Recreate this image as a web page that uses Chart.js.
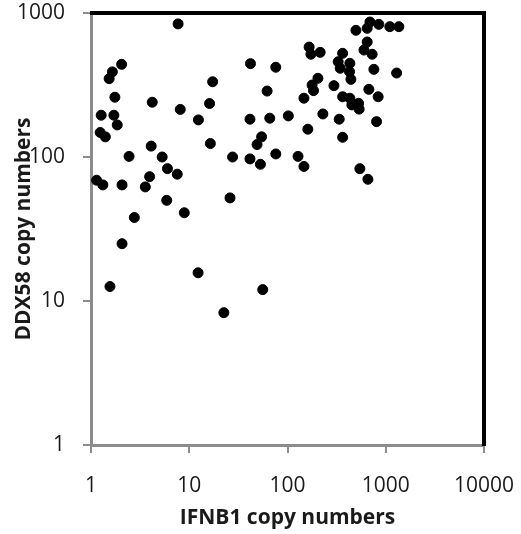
<!DOCTYPE html>
<html>
<head>
<meta charset="utf-8">
<script src="https://cdn.jsdelivr.net/npm/chart.js@4"></script>
<style>
  html, body { margin: 0; padding: 0; background: #fff; }
</style>
</head>
<body>
<canvas id="grafico" width="521" height="534"></canvas>
<script>
// IFNB1 (x) y DDX58 (y)
const ifnb1 = [
  7.7, 2.05, 1.65, 1.53, 1.75, 4.2, 8.1, 17.3, 16.1, 12.4,
  1.27, 1.71, 1.85, 1.24, 1.40, 4.1, 2.44, 5.3, 6.0, 16.4,
  27.6, 41.5, 53, 42, 76, 62, 41.5, 66, 102, 54.5,
  49, 76, 128, 497, 647, 690, 850, 1100, 1360, 647,
  600, 727, 166, 173, 215, 364, 328, 431, 344, 428,
  442, 757, 1290, 204, 178, 184, 297, 147, 364, 431,
  452, 529, 536, 673, 837, 229, 336, 806, 161, 364,
  147, 545, 658, 7.55, 3.95, 3.57, 1.14, 1.32, 2.07, 5.9,
  8.9, 2.76, 2.07, 12.3, 1.56, 56, 22.5, 26
];
const ddx58 = [
  840, 440, 390, 350, 260, 240, 214, 333, 235, 181,
  195, 195, 167, 148, 138, 119, 101, 100, 83, 124,
  100, 97, 89, 445, 420, 287, 183, 186, 193, 138,
  122, 105, 101, 758, 783, 866, 834, 804, 804, 629,
  553, 517, 580, 517, 533, 525, 459, 447, 413, 391,
  346, 406, 383, 352, 316, 289, 313, 256, 262, 256,
  230, 236, 215, 295, 262, 199, 183, 176, 156, 137,
  86, 83, 70, 76, 73, 62, 69, 64, 64, 50,
  41, 38, 25, 15.7, 12.6, 12, 8.3, 52
];
const xTicks = [1, 10, 100, 1000, 10000];
const yTicks = [1, 10, 100, 1000];

Chart.defaults.font.family = "'Open Sans', sans-serif";
Chart.defaults.color = '#1a1a1a';

// marco negro arriba y a la derecha
const marco = {
  id: 'marco',
  afterDatasetsDraw(chart) {
    const { ctx, chartArea: a } = chart;
    ctx.save();
    ctx.strokeStyle = '#000';
    ctx.lineWidth = 4;
    ctx.beginPath();
    ctx.moveTo(a.left - 1, a.top);
    ctx.lineTo(a.right, a.top);
    ctx.lineTo(a.right, a.bottom + 1);
    ctx.stroke();
    ctx.restore();
  }
};

const ctx = document.getElementById('grafico').getContext('2d');
new Chart(ctx, {
  type: 'scatter',
  data: {
    datasets: [{
      data: ifnb1.map((x, i) => ({ x: x, y: ddx58[i] })),
      backgroundColor: '#000',
      borderColor: '#000',
      pointRadius: 5,
      pointHoverRadius: 5
    }]
  },
  options: {
    responsive: false,
    animation: false,
    layout: { padding: { left: 0, top: 13, right: 37, bottom: 0 } },
    plugins: { legend: { display: false }, tooltip: { enabled: false } },
    scales: {
      x: {
        type: 'logarithmic',
        min: 1,
        max: 10000,
        afterBuildTicks: s => { s.ticks = xTicks.map(v => ({ value: v })); },
        afterFit: s => { s.height = 89; s.paddingLeft = 0; s.paddingRight = 0; },
        ticks: { callback: v => String(v), font: { size: 21 }, padding: 20, maxRotation: 0 },
        grid: { drawOnChartArea: false, color: '#8c8c8c', tickLength: 8, lineWidth: 2 },
        border: { color: '#8c8c8c', width: 3 },
        title: { display: true, text: 'IFNB1 copy numbers', font: { size: 21, weight: 'bold' }, padding: { top: 0, bottom: 3 } }
      },
      y: {
        type: 'logarithmic',
        min: 1,
        max: 1000,
        afterBuildTicks: s => { s.ticks = yTicks.map(v => ({ value: v })); },
        afterFit: s => { s.width = 91; s.paddingTop = 0; s.paddingBottom = 0; },
        ticks: { callback: v => String(v), font: { size: 21 }, padding: 18 },
        grid: { drawOnChartArea: false, color: '#8c8c8c', tickLength: 8, lineWidth: 2 },
        border: { color: '#8c8c8c', width: 3 },
        title: { display: true, text: 'DDX58 copy numbers', font: { size: 21, weight: 'bold' }, padding: { top: 11, bottom: 0 } }
      }
    }
  },
  plugins: [marco]
});
</script>
</body>
</html>
